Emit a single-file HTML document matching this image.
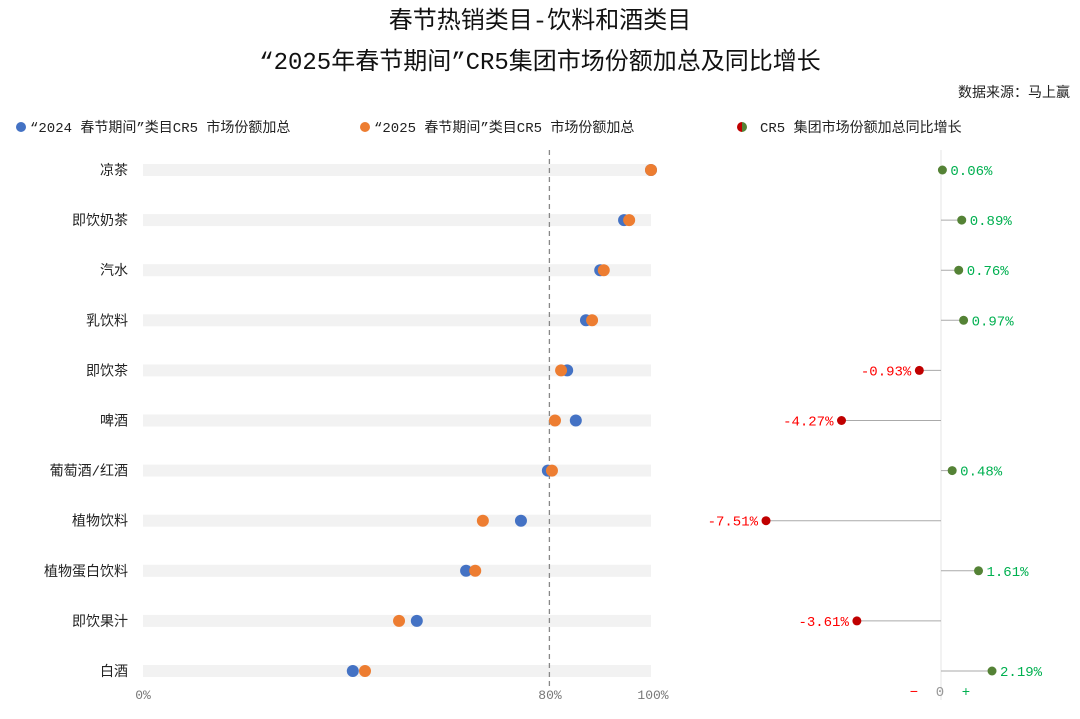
<!DOCTYPE html>
<html><head><meta charset="utf-8"><style>
body{margin:0;background:#fff}
svg text{font-family:"Liberation Mono","Noto Sans CJK SC",monospace}
</style></head><body>
<svg width="1080" height="714" xmlns="http://www.w3.org/2000/svg">
<text x="540" y="28" text-anchor="middle" font-size="24" fill="#111">春节热销类目-饮料和酒类目</text>
<text x="540" y="69" text-anchor="middle" font-size="24" fill="#111">“2025年春节期间”CR5集团市场份额加总及同比增长</text>
<text x="1070" y="97" text-anchor="end" font-size="14" fill="#222">数据来源：马上赢</text>
<g>
<circle cx="21" cy="127" r="5" fill="#4472c4"/>
<text x="30" y="132" font-size="14" fill="#222">“2024 春节期间”类目CR5 市场份额加总</text>
<circle cx="365" cy="127" r="5" fill="#ed7d31"/>
<text x="374" y="132" font-size="14" fill="#222">“2025 春节期间”类目CR5 市场份额加总</text>
<path d="M742 122 A5 5 0 0 0 742 132 Z" fill="#c00000"/>
<path d="M742 122 A5 5 0 0 1 742 132 Z" fill="#548235"/>
<text x="760" y="132" font-size="14" fill="#222">CR5 集团市场份额加总同比增长</text>
</g>
<g id="plot"></g>
<text x="143" y="699" font-size="13" fill="#777" text-anchor="middle">0%</text>
<text x="550" y="699" font-size="13" fill="#777" text-anchor="middle">80%</text>
<text x="653" y="699" font-size="13" fill="#777" text-anchor="middle">100%</text>
<text x="914" y="696" font-size="14" fill="#ff0000" text-anchor="middle">−</text>
<text x="940" y="696" font-size="14" fill="#999" text-anchor="middle">0</text>
<text x="966" y="696" font-size="14" fill="#00b050" text-anchor="middle">+</text>
</svg>
<script>
const categories=["凉茶","即饮奶茶","汽水","乳饮料","即饮茶","啤酒","葡萄酒/红酒","植物饮料","植物蛋白饮料","即饮果汁","白酒"];
const share2024=[100,94.7,90.0,87.2,83.5,85.2,79.7,74.4,63.6,53.9,41.3];
const share2025=[100,95.7,90.7,88.4,82.3,81.1,80.5,66.9,65.4,50.4,43.7];
const growth=[0.06,0.89,0.76,0.97,-0.93,-4.27,0.48,-7.51,1.61,-3.61,2.19];
const growthLabels=["0.06%","0.89%","0.76%","0.97%","-0.93%","-4.27%","0.48%","-7.51%","1.61%","-3.61%","2.19%"];
const NS="http://www.w3.org/2000/svg";
const g=document.getElementById('plot');
const xS=v=>143+v*5.08;
const yS=i=>170+i*50.1;
const xG=v=>941+v*23.3;
function mk(t,a){const e=document.createElementNS(NS,t);for(const k in a)e.setAttribute(k,a[k]);g.appendChild(e);return e;}
categories.forEach((c,i)=>{
  const y=yS(i);
  const bar=mk('rect',{x:143,y:y-6,width:xS(100)-143,height:12,fill:'#f2f2f2'});
  
  
  const lab=mk('text',{x:128,y:y+5,'font-size':14,fill:'#222','text-anchor':'end'});
  lab.textContent=c;
  
  
});
const dl=mk('line',{x1:xS(80),y1:150,x2:xS(80),y2:688,stroke:'#888','stroke-width':1.3,'stroke-dasharray':'5,4'});


const ax=mk('line',{x1:941,y1:150,x2:941,y2:700,stroke:'#eee','stroke-width':1.5});


categories.forEach((c,i)=>{
  const y=yS(i);
  const d1=mk('circle',{cx:xS(share2024[i]),cy:y,r:6,fill:'#4472c4'});
  
  
  const d2=mk('circle',{cx:xS(share2025[i]),cy:y,r:6,fill:'#ed7d31'});
  
  
  const v=growth[i],gx=xG(v),pos=v>=0;
  const st=mk('line',{x1:941,y1:y,x2:gx,y2:y,stroke:'#aaa','stroke-width':1});
  
  
  const gd=mk('circle',{cx:gx,cy:y,r:4.5,fill:pos?'#548235':'#c00000'});
  
  
  const t=mk('text',{x:pos?gx+8:gx-8,y:y+5,'font-size':14,fill:pos?'#00b050':'#ff0000','text-anchor':pos?'start':'end'});
  t.textContent=growthLabels[i];
  
  
});
</script>
</body></html>
